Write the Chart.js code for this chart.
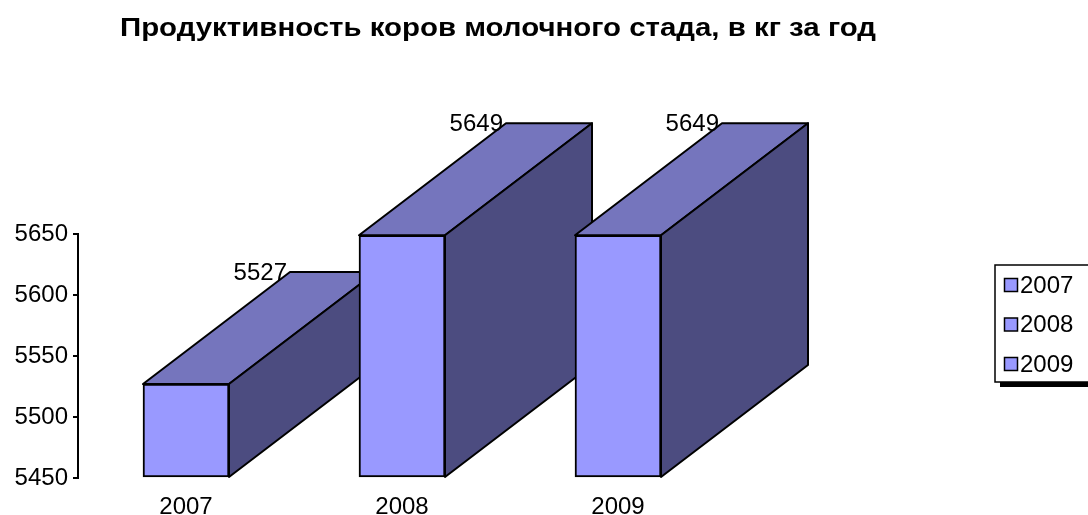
<!DOCTYPE html>
<html>
<head>
<meta charset="utf-8">
<script src="https://cdn.jsdelivr.net/npm/chart.js@4.4.1/dist/chart.umd.min.js"></script>
<style>
html,body{margin:0;padding:0;background:#fff;}
#wrap{width:1088px;height:515px;position:relative;}
</style>
</head>
<body>
<div id="wrap"><canvas id="c" width="1088" height="515"></canvas></div>
<script>
const titleText = "Продуктивность коров молочного стада, в кг за год";
const categories = ["2007", "2008", "2009"];
const values = [5527, 5649, 5649];
const yTicks = [5450, 5500, 5550, 5600, 5650];

const FONT = "Arial, 'Liberation Sans', sans-serif";
const FRONT = "#9999FF", TOP = "#7575BD", SIDE = "#4C4C80";
const DX = 147, DY = 112;

const depthPlugin = {
  id: 'depth3d',
  beforeDatasetsDraw(chart) {
    const ctx = chart.ctx;
    const meta = chart.getDatasetMeta(0);
    ctx.save();
    ctx.lineWidth = 2;
    ctx.strokeStyle = '#000';
    ctx.lineJoin = 'round';
    meta.data.forEach(bar => {
      const p = bar.getProps(['x', 'y', 'base', 'width'], true);
      const x0 = p.x - p.width / 2, x1 = p.x + p.width / 2;
      const y = p.y, b = p.base;
      ctx.beginPath();
      ctx.moveTo(x0, y); ctx.lineTo(x1, y); ctx.lineTo(x1 + DX, y - DY); ctx.lineTo(x0 + DX, y - DY); ctx.closePath();
      ctx.fillStyle = TOP; ctx.fill(); ctx.stroke();
      ctx.beginPath();
      ctx.moveTo(x1, y); ctx.lineTo(x1 + DX, y - DY); ctx.lineTo(x1 + DX, b - DY); ctx.lineTo(x1, b); ctx.closePath();
      ctx.fillStyle = SIDE; ctx.fill(); ctx.stroke();
    });
    ctx.restore();
  },
  afterDatasetsDraw(chart) {
    const ctx = chart.ctx;
    const meta = chart.getDatasetMeta(0);
    ctx.save();
    ctx.font = "24px " + FONT;
    ctx.fillStyle = '#000';
    ctx.textAlign = 'right';
    ctx.textBaseline = 'middle';
    meta.data.forEach((bar, i) => {
      const p = bar.getProps(['x', 'y', 'width'], true);
      const x0 = p.x - p.width / 2;
      ctx.fillText(String(values[i]), x0 + DX - 3, p.y - DY + 1);
    });
    ctx.restore();
  },
  afterDraw(chart) {
    const ctx = chart.ctx;
    ctx.save();
    // title (slightly widened glyphs, like the original rendering)
    ctx.font = "bold 26px " + FONT;
    ctx.fillStyle = '#000';
    ctx.textAlign = 'left';
    ctx.textBaseline = 'alphabetic';
    const w = ctx.measureText(titleText).width;
    const sx = 756 / w;
    ctx.save();
    ctx.scale(sx, 1);
    ctx.fillText(titleText, 120 / sx, 36);
    ctx.restore();
    // legend box
    const lx = 995, ly = 265, lw = 120, lh = 117;
    ctx.fillStyle = '#000';
    ctx.fillRect(lx + 5, ly + lh, lw, 5);
    ctx.fillStyle = '#fff';
    ctx.fillRect(lx, ly, lw, lh);
    ctx.lineWidth = 1.5;
    ctx.strokeStyle = '#000';
    ctx.strokeRect(lx, ly, lw, lh);
    ctx.font = "24px " + FONT;
    ctx.textAlign = 'left';
    ctx.textBaseline = 'middle';
    categories.forEach((c, i) => {
      const cy = 285 + i * 39.5;
      ctx.fillStyle = FRONT;
      ctx.fillRect(1004.5, cy - 6.5, 13, 13);
      ctx.strokeRect(1004.5, cy - 6.5, 13, 13);
      ctx.fillStyle = '#000';
      ctx.fillText(c, 1020, cy + 1);
    });
    ctx.restore();
  }
};

new Chart(document.getElementById('c'), {
  type: 'bar',
  data: {
    labels: categories,
    datasets: [{
      data: values,
      base: yTicks[0],
      backgroundColor: FRONT,
      borderColor: '#000',
      borderWidth: 2,
      borderSkipped: false,
      barThickness: 86
    }]
  },
  options: {
    responsive: false,
    animation: false,
    events: [],
    layout: { padding: { top: 234, right: 362, bottom: 0, left: 0 } },
    plugins: { legend: { display: false }, title: { display: false }, tooltip: { enabled: false } },
    scales: {
      x: {
        offset: true,
        grid: { display: false },
        border: { display: false },
        ticks: { color: '#000', font: { family: FONT, size: 24 }, padding: 7, maxRotation: 0 },
        afterFit(s) { s.height = 37; }
      },
      y: {
        min: yTicks[0],
        max: yTicks[yTicks.length - 1],
        afterBuildTicks(s) { s.ticks = yTicks.map(v => ({ value: v })); },
        grid: { drawOnChartArea: false, drawTicks: true, tickLength: 5, color: '#000', lineWidth: 2 },
        border: { display: true, color: '#000', width: 2 },
        ticks: { color: '#000', font: { family: FONT, size: 24 }, padding: 5, callback: v => String(v) },
        afterFit(s) { s.width = 78; }
      }
    }
  },
  plugins: [depthPlugin]
});
</script>
</body>
</html>
